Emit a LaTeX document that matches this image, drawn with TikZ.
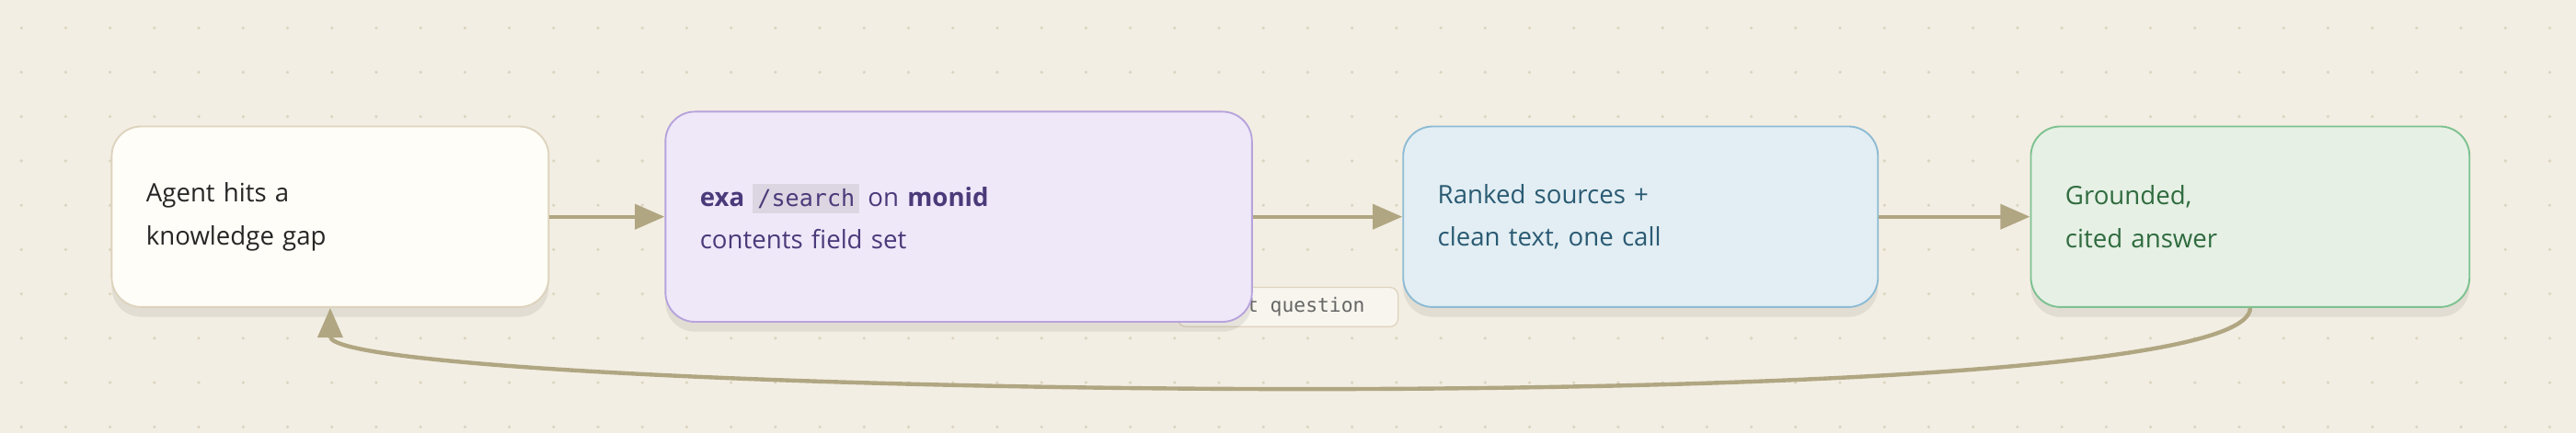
\documentclass[tikz,border=0pt]{standalone}
\usepackage{fontspec}
\setmainfont{Open Sans}
\setmonofont{DejaVu Sans Mono}
\usetikzlibrary{arrows.meta,positioning,calc,shadows}
\definecolor{bgcol}{HTML}{F3EEE3}
\definecolor{dotcol}{HTML}{DCD4C0}
\definecolor{flowcol}{HTML}{B0A682}
\definecolor{gapfill}{HTML}{FEFDF7}
\definecolor{gapline}{HTML}{DDD3BD}
\definecolor{exafill}{HTML}{EEE8F9}
\definecolor{exaline}{HTML}{B7A3DC}
\definecolor{exatext}{HTML}{4B3A7A}
\definecolor{chipfill}{HTML}{DCD6E2}
\definecolor{srcfill}{HTML}{E2EEF3}
\definecolor{srcline}{HTML}{8DBBD4}
\definecolor{srctext}{HTML}{2A5A73}
\definecolor{ansfill}{HTML}{E6F0E5}
\definecolor{ansline}{HTML}{7DC190}
\definecolor{anstext}{HTML}{2F6B3E}
\tikzset{
  stage/.style={draw, line width=1.5pt, rounded corners=0.9cm, align=left,
    inner xsep=1.05cm, minimum height=5.5cm,
    font=\fontsize{22}{37}\selectfont,
    drop shadow={shadow xshift=0cm, shadow yshift=-0.3cm, opacity=0.07, draw=none, fill=black}},
  gap/.style={stage, fill=gapfill, draw=gapline, text=black!85, text width=11.2cm},
  exa/.style={stage, fill=exafill, draw=exaline, text=exatext, text width=15.75cm, minimum height=6.4cm},
  src/.style={stage, fill=srcfill, draw=srcline, text=srctext, text width=12.35cm},
  ans/.style={stage, fill=ansfill, draw=ansline, text=anstext, text width=11.25cm},
  flow/.style={draw=flowcol, line width=3.5pt, -{Triangle[length=0.9cm,width=0.75cm]}},
  tag/.style={draw=gapline, fill=bgcol!60!white, line width=1pt, rounded corners=0.25cm,
    text=black!60, font=\ttfamily\fontsize{17}{20}\selectfont, minimum width=6.7cm, minimum height=1.2cm}
}
\newcommand{\chip}[1]{{\setlength{\fboxsep}{4pt}\colorbox{chipfill}{\ttfamily\fontsize{20}{22}\selectfont #1}}}
\begin{document}
\begin{tikzpicture}
  \fill[bgcol] (0,0) rectangle (78.4,-13.2);
  \foreach \i in {0,...,57}
    \foreach \j in {0,...,9}
      \fill[dotcol] (0.65+1.35*\i,-0.85-1.35*\j) circle (0.05);

  \node[tag] (next) at (39.2,-9.35) {next question};

  \node[gap] (b1) at (10.05,-6.6) {Agent hits a\\knowledge gap};
  \node[exa] (b2) [right=3.5cm of b1] {\textbf{exa} \chip{/search} on \textbf{monid}\\contents field set};
  \node[src] (b3) [right=4.55cm of b2] {Ranked sources +\\clean text, one call};
  \node[ans] (b4) [right=4.6cm of b3] {Grounded,\\cited answer};

  \draw[flow] (b1) -- (b2);
  \draw[flow] (b2) -- (b3);
  \draw[flow] (b3) -- (b4);
  \draw[flow] (b4.south) .. controls ($(b4.south)+(0,-3.65)$) and ($(b1.south)+(0,-2.65)$) .. (b1.south);
\end{tikzpicture}
\end{document}
